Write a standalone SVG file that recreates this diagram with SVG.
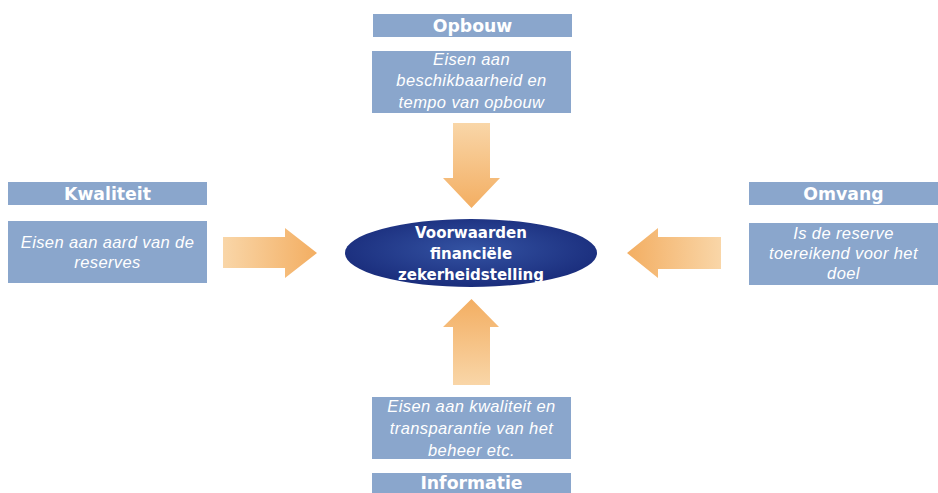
<svg xmlns="http://www.w3.org/2000/svg" width="938" height="493" viewBox="0 0 938 493">
<style>
.box{fill:#8aa6cc}
.hdr{font-family:"DejaVu Sans",sans-serif;font-weight:bold;font-size:17.3px;fill:#fff;text-anchor:middle}
.desc{font-family:"Liberation Sans",Arial,sans-serif;font-style:italic;font-size:16.5px;letter-spacing:0.4px;fill:#fff;text-anchor:middle}
.ctr{font-family:"DejaVu Sans",sans-serif;font-weight:bold;font-size:15px;fill:#fff;text-anchor:middle}
</style>
<defs>
<linearGradient id="gDown" x1="0" y1="0" x2="0" y2="1"><stop offset="0" stop-color="#f9d6a8"/><stop offset="1" stop-color="#f3ae62"/></linearGradient>
<linearGradient id="gUp" x1="0" y1="1" x2="0" y2="0"><stop offset="0" stop-color="#f9d6a8"/><stop offset="1" stop-color="#f3ae62"/></linearGradient>
<linearGradient id="gRight" x1="0" y1="0" x2="1" y2="0"><stop offset="0" stop-color="#f9d6a8"/><stop offset="1" stop-color="#f3ae62"/></linearGradient>
<linearGradient id="gLeft" x1="1" y1="0" x2="0" y2="0"><stop offset="0" stop-color="#f9d6a8"/><stop offset="1" stop-color="#f3ae62"/></linearGradient>
<radialGradient id="gEll" cx="0.5" cy="0.45" r="0.55"><stop offset="0" stop-color="#3453a3"/><stop offset="1" stop-color="#1a2d7c"/></radialGradient>
<clipPath id="clipC"><rect x="340" y="215" width="260" height="68"/></clipPath>
</defs>

<g id="connectors">
<path d="M453,123 H490 V178 H500 L471.5,208 L443,178 H453 Z" fill="url(#gDown)"/>
<path d="M453,385 H490 V327 H499 L471.5,299 L443,327 H453 Z" fill="url(#gUp)"/>
<path d="M223,237 H285 V228 L317,253 L285,278 V268 H223 Z" fill="url(#gRight)"/>
<path d="M721,237 H658 V228 L627,253 L658,278 V269 H721 Z" fill="url(#gLeft)"/>
</g>

<g id="center">
<ellipse cx="471" cy="253" rx="126" ry="34" fill="url(#gEll)"/>
<g clip-path="url(#clipC)">
<text class="ctr" x="471" y="238">Voorwaarden</text>
<text class="ctr" x="471" y="259">financiële</text>
<text class="ctr" x="471" y="280">zekerheidstelling</text>
</g>
</g>

<g id="opbouw">
<rect class="box" x="373" y="14" width="199" height="23"/>
<text class="hdr" x="472.5" y="32">Opbouw</text>
<rect class="box" x="372" y="51" width="199" height="62"/>
<text class="desc" x="471.5" y="65">Eisen aan</text>
<text class="desc" x="471.5" y="86">beschikbaarheid en</text>
<text class="desc" x="471.5" y="108">tempo van opbouw</text>
</g>

<g id="kwaliteit">
<rect class="box" x="8" y="182" width="199" height="23"/>
<text class="hdr" x="107.5" y="200">Kwaliteit</text>
<rect class="box" x="8" y="221" width="199" height="62"/>
<text class="desc" x="107.5" y="248">Eisen aan aard van de</text>
<text class="desc" x="107.5" y="268">reserves</text>
</g>

<g id="omvang">
<rect class="box" x="749" y="182" width="189" height="23"/>
<text class="hdr" x="843.5" y="200">Omvang</text>
<rect class="box" x="749" y="223" width="189" height="62"/>
<text class="desc" x="843.5" y="239">Is de reserve</text>
<text class="desc" x="843.5" y="259">toereikend voor het</text>
<text class="desc" x="843.5" y="279">doel</text>
</g>

<g id="informatie">
<rect class="box" x="372" y="397" width="199" height="62"/>
<text class="desc" x="471.5" y="412">Eisen aan kwaliteit en</text>
<text class="desc" x="471.5" y="434">transparantie van het</text>
<text class="desc" x="471.5" y="456">beheer etc.</text>
<rect class="box" x="372" y="473" width="199" height="20"/>
<text class="hdr" x="471.5" y="489">Informatie</text>
</g>
</svg>
